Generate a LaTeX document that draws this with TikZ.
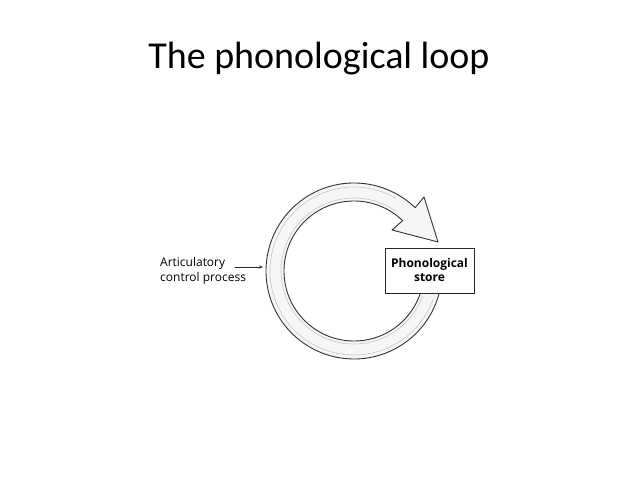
\documentclass[tikz,border=0pt]{standalone}
\usepackage{fontspec}
\setmainfont{Open Sans}
\newfontfamily\titlefont{Carlito}
\usetikzlibrary{arrows.meta,calc}
\begin{document}
\begin{tikzpicture}[x=1pt,y=1pt,
  ringstyle/.style={fill=gray!7,draw=black!80,line width=0.9pt,line join=round},
  storebox/.style={draw=black!85,fill=white,line width=0.9pt,minimum width=89pt,minimum height=45pt,inner sep=0pt,align=center,font=\bfseries\fontsize{12}{14}\selectfont},
  labeltext/.style={align=left,inner sep=0pt,font=\fontsize{12}{14.5}\selectfont},
  feed/.style={-{Stealth[length=4pt,width=3pt]},line width=0.6pt,black!85}]
\useasboundingbox (0,0) rectangle (638,479);
\node[font=\titlefont\fontsize{38}{44}\selectfont,anchor=base] (title) at (319,410) {The phonological loop};
\coordinate (C) at (354,208);
% ring with arrowhead
\path[ringstyle] ($(C)+(-10:88)$)
  arc[start angle=-10,end angle=-314,radius=88]
  -- ($(C)+(70,74)$)
  -- ($(C)+(84,29)$)
  -- ($(C)+(38,41)$)
  -- ($(C)+(46:70)$)
  arc[start angle=46,end angle=350,radius=70] -- cycle;
\draw[gray!45,line width=0.6pt] ($(C)+(-20:84)$) arc[start angle=-20,end angle=-300,radius=84];
\draw[gray!45,line width=0.6pt] ($(C)+(-20:73)$) arc[start angle=-20,end angle=-305,radius=73];
\node[storebox] (store) at (429.5,208.5) {Phonological\\store};
\node[labeltext,anchor=west] (acp) at (160,208) {Articulatory\\control process};
\coordinate (ringleft) at (263,212);
\coordinate (arrowstart) at (235,212);
\draw[feed] (arrowstart) -- (ringleft);
\end{tikzpicture}
\end{document}
